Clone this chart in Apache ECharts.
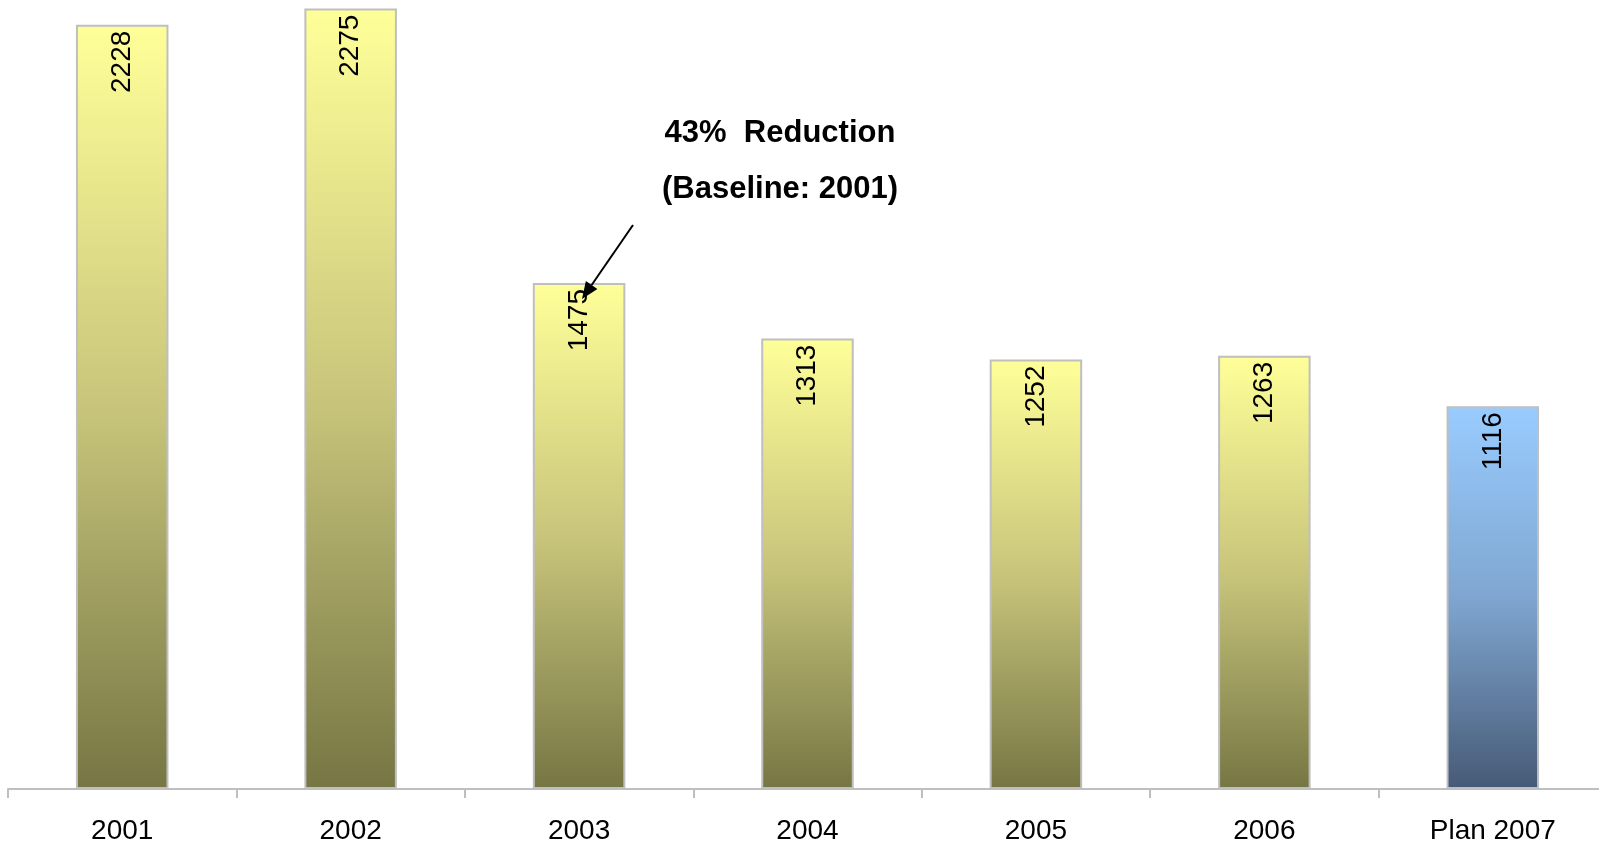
<!DOCTYPE html>
<html>
<head>
<meta charset="utf-8">
<script src="https://cdn.jsdelivr.net/npm/echarts@6/dist/echarts.min.js"></script>
<style>
  html, body { margin: 0; padding: 0; background: #fff; }
  #chart { width: 1599px; height: 845px; }
</style>
</head>
<body>
<div id="chart"></div>
<script>
// categories and values
var years = ['2001', '2002', '2003', '2004', '2005', '2006', 'Plan 2007'];
var counts = [2228, 2275, 1475, 1313, 1252, 1263, 1116];
var isPlan = [false, false, false, false, false, false, true];

var noteLines = ['43%  Reduction', '(Baseline: 2001)'];

var fontName = '"Liberation Sans", Arial, sans-serif';

function grad(top, mid, bottom) {
  return new echarts.graphic.LinearGradient(0, 0, 0, 1, [
    { offset: 0, color: top },
    { offset: 0.5, color: mid },
    { offset: 1, color: bottom }
  ]);
}

var barData = counts.map(function (v, i) {
  return {
    value: v,
    itemStyle: {
      color: isPlan[i] ? grad('#99CCFF', '#7FA6D0', '#465A76') : grad('#FFFF99', '#C8C57B', '#767644')
    }
  };
});

var chart = echarts.init(document.getElementById('chart'));

// arrow from the note down to the 2003 bar
var tail = [633, 225], tip = [582, 299];
var dx = tip[0] - tail[0], dy = tip[1] - tail[1];
var len = Math.sqrt(dx * dx + dy * dy);
var ux = dx / len, uy = dy / len;
var headLen = 17, headHalf = 7;
var bx = tip[0] - ux * headLen, by = tip[1] - uy * headLen;

var option = {
  backgroundColor: '#ffffff',
  animation: false,
  grid: { left: 8, right: -8, top: 0, bottom: 56, outerBoundsMode: 'none', containLabel: false },
  xAxis: {
    type: 'category',
    data: years,
    axisLine: { lineStyle: { color: '#BFBFBF', width: 2 } },
    axisTick: { show: true, length: 9, lineStyle: { color: '#BFBFBF', width: 2 } },
    axisLabel: { color: '#000', fontSize: 28, fontFamily: fontName, margin: 28 }
  },
  yAxis: {
    type: 'value',
    min: 0,
    max: 2300,
    show: false,
    splitLine: { show: false }
  },
  series: [{
    type: 'bar',
    data: barData,
    barWidth: '40.5%',
    itemStyle: { borderColor: '#BFBFBF', borderWidth: 2 },
    label: {
      show: true,
      position: 'insideTop',
      rotate: 90,
      align: 'right',
      verticalAlign: 'middle',
      distance: 6,
      color: '#000',
      fontSize: 28,
      fontFamily: fontName
    }
  }],
  graphic: [
    {
      type: 'text',
      z: 100,
      style: {
        text: noteLines[0],
        x: 780, y: 118,
        align: 'center',
        verticalAlign: 'top',
        fill: '#000',
        font: 'bold 31px ' + fontName
      }
    },
    {
      type: 'text',
      z: 100,
      style: {
        text: noteLines[1],
        x: 780, y: 174,
        align: 'center',
        verticalAlign: 'top',
        fill: '#000',
        font: 'bold 31px ' + fontName
      }
    },
    {
      type: 'line',
      z: 100,
      shape: { x1: tail[0], y1: tail[1], x2: bx, y2: by },
      style: { stroke: '#000', lineWidth: 2 }
    },
    {
      type: 'polygon',
      z: 100,
      shape: {
        points: [
          tip,
          [bx + uy * headHalf, by - ux * headHalf],
          [bx - uy * headHalf, by + ux * headHalf]
        ]
      },
      style: { fill: '#000' }
    }
  ]
};

chart.setOption(option);
</script>
</body>
</html>
